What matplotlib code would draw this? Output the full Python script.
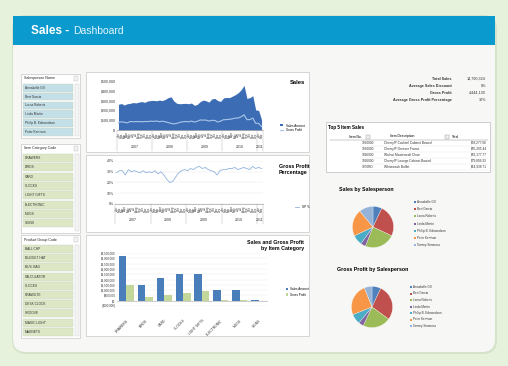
import numpy as np
import matplotlib.pyplot as plt
from matplotlib.patches import Rectangle, FancyBboxPatch
from matplotlib.lines import Line2D
from matplotlib.ticker import FuncFormatter

plt.rcParams['font.family'] = ['Liberation Sans', 'DejaVu Sans']

W, H = 508, 366

# ---- data ----
salespeople = ["Annabelle Gill", "Bert Garcia", "Lorna Roberts", "Linda Martin",
               "Philip B. Edmondson", "Peter Kerrison", "Tommy Simmons"]
item_categories = ["DRAWERS", "BIRDS", "CARD", "CLOCKS", "LIGHT GIFTS",
                   "ELECTRONIC", "MUGS", "SIGNS"]
product_groups = ["BALL CHP", "BUDGET HAT", "BUS. BAG", "CALCULATOR", "CLOCKS",
                  "DRAWLITE", "DESK CLOCK", "GROOVE", "MAGIC LIGHT", "MAGNETS"]

years = ["2007", "2008", "2009", "2010", "2011"]
months_per_year = [12, 12, 12, 12, 2]
month_names = ["Jan", "Feb", "Mar", "Apr", "May", "Jun",
               "Jul", "Aug", "Sep", "Oct", "Nov", "Dec"]

sales_k = [262, 270, 255, 268, 272, 280, 276, 285, 290, 282, 296, 300,
           302, 298, 305, 300, 312, 330, 338, 295, 272, 268, 270, 272,
           268, 275, 252, 262, 290, 305, 298, 285, 318, 322, 300, 292,
           328, 332, 330, 345, 360, 380, 410, 455, 322, 330, 350, 205,
           200, 105]
gross_profit_k = [76, 84, 79, 72, 87, 84, 86, 86, 84, 87, 86, 90,
                  88, 92, 85, 90, 84, 76, 68, 62, 68, 78, 84, 87,
                  83, 91, 81, 89, 102, 101, 101, 91, 99, 97, 81, 91,
                  105, 106, 109, 114, 122, 122, 135, 155, 106, 106, 122, 68,
                  68, 35]
gp_pct = [29, 31, 31, 27, 32, 30, 31, 30, 29, 31, 29, 30,
          29, 31, 28, 30, 27, 23, 20, 21, 25, 29, 31, 32,
          31, 33, 32, 34, 35, 33, 34, 32, 31, 30, 27, 31,
          32, 32, 33, 33, 34, 32, 33, 34, 33, 32, 35, 33,
          34, 33]

cat_sales = [4200000, 1470000, 2100000, 2480000, 2480000, 970000, 1050000, 20000]
cat_gp = [1470000, 370000, 530000, 690000, 900000, 50000, 50000, 0]

kpi_labels = ["Total Sales", "Average Sales Discount", "Gross Profit",
              "Average Gross Profit Percentage"]
kpi_values = ["14,790,324", "0%", "4,444,130", "30%"]

top_items = ["1920000", "1930000", "1896000", "1926000", "1970RD"]
top_desc = ["Cherry/P Cocktail Cabinet Bowed", "Cherry/P Dresser Frame",
            "Walnut Mastercraft Chair", "Cherry/P Lounge Cabinet Bowed",
            "Whitewash Buffet"]
top_totals = ["$93,277.90", "$85,205.44", "$82,177.77", "$79,809.33", "$64,938.71"]

pie_sales = [7, 25, 24, 4, 8, 21, 11]
pie_gp = [7, 28, 22, 4, 8, 25, 6]
pie_colors = ['#4F81BD', '#C0504D', '#9BBB59', '#8064A2', '#4BACC6', '#F79646', '#95B3D7']


def rect(x0, y0, x1, y1):
    return [x0 / W, 1 - y1 / H, (x1 - x0) / W, (y1 - y0) / H]


fig = plt.figure(figsize=(W / 100, H / 100), dpi=100)
fig.patch.set_facecolor('#e7f2dd')

bg = fig.add_axes([0, 0, 1, 1])
bg.set_xlim(0, W)
bg.set_ylim(H, 0)
bg.axis('off')

# card + shadow
bg.add_patch(FancyBboxPatch((12, 15), 485, 339, boxstyle="round,pad=0,rounding_size=14",
                            fc='#d5e3cb', ec='none'))
bg.add_patch(FancyBboxPatch((13, 16), 482, 336, boxstyle="round,pad=0,rounding_size=13",
                            fc='#f7f8f6', ec='none'))
bg.add_patch(Rectangle((13, 16), 482, 29, fc='#0a9acd', ec='none'))
t = bg.text(31, 31, "Sales - ", color='white', fontsize=8.5, fontweight='bold', va='center')
fig.canvas.draw()
bb = t.get_window_extent()
bg.text(bb.x1 + 1, 31, "Dashboard", color='#e6f6ff', fontsize=7.5, va='center')


# ---- slicers ----
def slicer(y0, y1, title, items, fc, item_h):
    bg.add_patch(Rectangle((21, y0), 59, y1 - y0, fc='white', ec='#c8c8c8', lw=0.5))
    bg.text(24, y0 + 4.5, title, fontsize=2.6, va='center', color='#222222')
    bg.add_patch(Rectangle((73.5, y0 + 2), 4.5, 5, fc='#f2f2f2', ec='#bbbbbb', lw=0.3))
    bg.add_patch(Rectangle((75, y0 + 10), 3.5, y1 - y0 - 12, fc='#f4f4f4', ec='#cccccc', lw=0.3))
    for i, name in enumerate(items):
        yy = y0 + 10 + i * item_h
        bg.add_patch(Rectangle((23, yy), 50, item_h - 1.2, fc=fc, ec='#c9d3bd', lw=0.3))
        bg.text(25, yy + (item_h - 1.2) / 2, name, fontsize=2.3, va='center', color='#333333')


slicer(74, 138, "Salesperson Name", salespeople[:6], '#c3dfe7', 8.8)
slicer(144, 233, "Item Category Code", item_categories, '#dde7c6', 9.3)
slicer(235, 338, "Product Group Code", product_groups, '#dde7c6', 9.2)

# chart panels
for y0, y1 in [(72, 152), (155, 232), (235, 336)]:
    bg.add_patch(Rectangle((86, y0), 223, y1 - y0, fc='white', ec='#cfcfcf', lw=0.6))

n = len(sales_k)
x = np.arange(n)
month_lbls = [month_names[i % 12] for i in range(n)]
year_edges = np.cumsum([0] + months_per_year) - 0.5


def time_axis(ax, yr_y):
    ax.set_xlim(-0.5, n - 0.5)
    ax.set_xticks(x)
    ax.set_xticklabels(month_lbls, rotation=90, fontsize=2.2, color='#333333')
    ax.tick_params(axis='x', length=1, width=0.3, pad=0.8, color='#999999')
    ax.tick_params(axis='y', length=0, labelsize=2.5, pad=1, labelcolor='#333333')
    for s in ['top', 'right', 'left']:
        ax.spines[s].set_visible(False)
    ax.spines['bottom'].set_color('#999999')
    ax.spines['bottom'].set_linewidth(0.4)
    tr = ax.get_xaxis_transform()
    for e in year_edges:
        ax.plot([e, e], [0, yr_y - 0.08], transform=tr, color='#aaaaaa', lw=0.3, clip_on=False)
    for i, yr in enumerate(years):
        ax.text((year_edges[i] + year_edges[i + 1]) / 2, yr_y, yr, transform=tr,
                fontsize=2.5, ha='center', va='center', color='#333333')


# ---- Sales area chart ----
ax1 = fig.add_axes(rect(117, 81, 263, 130))
ax1.fill_between(x, [v * 1000 for v in sales_k], color='#3c6db4', lw=0)
ax1.plot(x, [v * 1000 for v in gross_profit_k], color='#a9c6e8', lw=0.8)
ax1.set_ylim(0, 500000)
ax1.set_yticks(np.arange(0, 500001, 100000))
ax1.yaxis.set_major_formatter(FuncFormatter(lambda v, p: "$-" if v == 0 else "${:,.0f}".format(v)))
time_axis(ax1, -0.34)
bg.text(305, 83, "Sales", fontsize=4.2, fontweight='bold', ha='right', va='center')
ax1.legend([Rectangle((0, 0), 1, 1, fc='#3c6db4'), Line2D([], [], color='#a9c6e8', lw=0.8)],
           ["Sales Amount", "Gross Profit"], loc='center left',
           bbox_to_anchor=(277 / W, 1 - 128 / H), bbox_transform=fig.transFigure,
           fontsize=2.2, frameon=False, handlelength=1.2, handleheight=0.6, labelspacing=0.3)

# ---- GP% line chart ----
ax2 = fig.add_axes(rect(115, 161, 263, 204))
ax2.plot(x, [v / 100 for v in gp_pct], color='#8fb3dc', lw=0.6)
ax2.set_ylim(0, 0.4)
ax2.set_yticks(np.arange(0, 0.41, 0.1))
ax2.yaxis.set_major_formatter(FuncFormatter(lambda v, p: "{:.0f}%".format(v * 100)))
ax2.grid(axis='y', color='#e6e6e6', lw=0.3)
time_axis(ax2, -0.38)
bg.text(279, 164, "Gross Profit\nPercentage", fontsize=3.8, fontweight='bold',
        ha='left', va='top', linespacing=1.3)
ax2.legend([Line2D([], [], color='#8fb3dc', lw=0.6)], ["GP %"], loc='center left',
           bbox_to_anchor=(292 / W, 1 - 207 / H), bbox_transform=fig.transFigure,
           fontsize=2.2, frameon=False, handlelength=1.5)

# ---- bar chart ----
ax3 = fig.add_axes(rect(117, 253, 268, 306))
xc = np.arange(len(item_categories))
ax3.bar(xc - 0.2, cat_sales, width=0.4, color='#4a7ebb', label="Sales Amount")
ax3.bar(xc + 0.2, cat_gp, width=0.4, color='#c4d79b', label="Gross Profit")
ax3.set_xlim(-0.5, len(item_categories) - 0.5)
ax3.set_ylim(-500000, 4500000)
ax3.set_yticks(np.arange(-500000, 4500001, 500000))
ax3.yaxis.set_major_formatter(FuncFormatter(
    lambda v, p: "${:,.0f}".format(v) if v >= 0 else "(${:,.0f})".format(-v)))
ax3.grid(axis='y', color='#e8e8e8', lw=0.3)
ax3.set_axisbelow(True)
ax3.axhline(0, color='#aaaaaa', lw=0.4)
ax3.set_xticks(xc)
ax3.set_xticklabels(item_categories, rotation=45, ha='right', rotation_mode='anchor',
                    fontsize=2.4, color='#333333')
ax3.tick_params(axis='x', length=0, pad=9)
ax3.tick_params(axis='y', length=0, labelsize=2.1, pad=1, labelcolor='#333333')
for s in ax3.spines.values():
    s.set_visible(False)
bg.text(304, 240, "Sales and Gross Profit\nby Item Category", fontsize=3.8,
        fontweight='bold', ha='right', va='top', linespacing=1.3)
ax3.legend(loc='center left', bbox_to_anchor=(283 / W, 1 - 292 / H),
           bbox_transform=fig.transFigure, fontsize=2.2, frameon=False,
           handlelength=0.7, handleheight=0.7, labelspacing=0.4)

# ---- KPIs ----
for i, (lab, val) in enumerate(zip(kpi_labels, kpi_values)):
    yy = 79 + i * 7
    bg.text(452, yy, lab, fontsize=2.7, ha='right', va='center', fontweight='bold', color='#333333')
    bg.text(486, yy, val, fontsize=2.7, ha='right', va='center', color='#333333')

# ---- Top 5 table ----
bg.add_patch(Rectangle((326, 122), 164, 50, fc='white', ec='#bbbbbb', lw=0.5))
bg.text(328, 128, "Top 5 Item Sales", fontsize=3.3, fontweight='bold', va='center')
bg.plot([330, 488], [139.5, 139.5], color='#888888', lw=0.3)
bg.text(362, 136.5, "Item No.", fontsize=2.4, ha='right', va='center')
bg.add_patch(Rectangle((366, 134.5), 4, 4, fc='#eeeeee', ec='#999999', lw=0.3))
bg.text(402, 136.5, "Item Description", fontsize=2.4, ha='center', va='center')
bg.add_patch(Rectangle((445, 134.5), 4, 4, fc='#eeeeee', ec='#999999', lw=0.3))
bg.text(452, 136.5, "Total", fontsize=2.4, ha='left', va='center')
for i in range(5):
    yy = 143 + i * 6
    bg.text(362, yy, top_items[i], fontsize=2.3, ha='left', va='center', color='#333333')
    bg.text(384, yy, top_desc[i], fontsize=2.3, ha='left', va='center', color='#333333')
    bg.text(487, yy, top_totals[i], fontsize=2.3, ha='right', va='center', color='#333333')
    bg.plot([360, 488], [yy + 3, yy + 3], color='#dddddd', lw=0.25)


# ---- pies ----
def pie(cx, cy, r, vals, title, tx, ty, lx, ly, lsp):
    axp = fig.add_axes(rect(cx - r, cy - r, cx + r, cy + r))
    axp.pie(vals, colors=pie_colors, startangle=90, counterclock=False,
            wedgeprops=dict(linewidth=0.2, edgecolor='white'))
    axp.set_xlim(-1.02, 1.02)
    axp.set_ylim(-1.02, 1.02)
    axp.set_aspect('equal')
    bg.text(tx, ty, title, fontsize=3.8, fontweight='bold', va='center')
    for i, name in enumerate(salespeople):
        yy = ly + i * lsp
        bg.add_patch(Rectangle((lx, yy - 1), 2, 2, fc=pie_colors[i], ec='none'))
        bg.text(lx + 3, yy, name, fontsize=2.2, va='center', color='#333333')


pie(373, 227, 21, pie_sales, "Sales by Salesperson", 339, 190, 414, 202, 7.2)
pie(372, 307, 21, pie_gp, "Gross Profit by Salesperson", 337, 270, 410, 287, 6.5)

fig.savefig("out.png", dpi=100, facecolor=fig.get_facecolor())
